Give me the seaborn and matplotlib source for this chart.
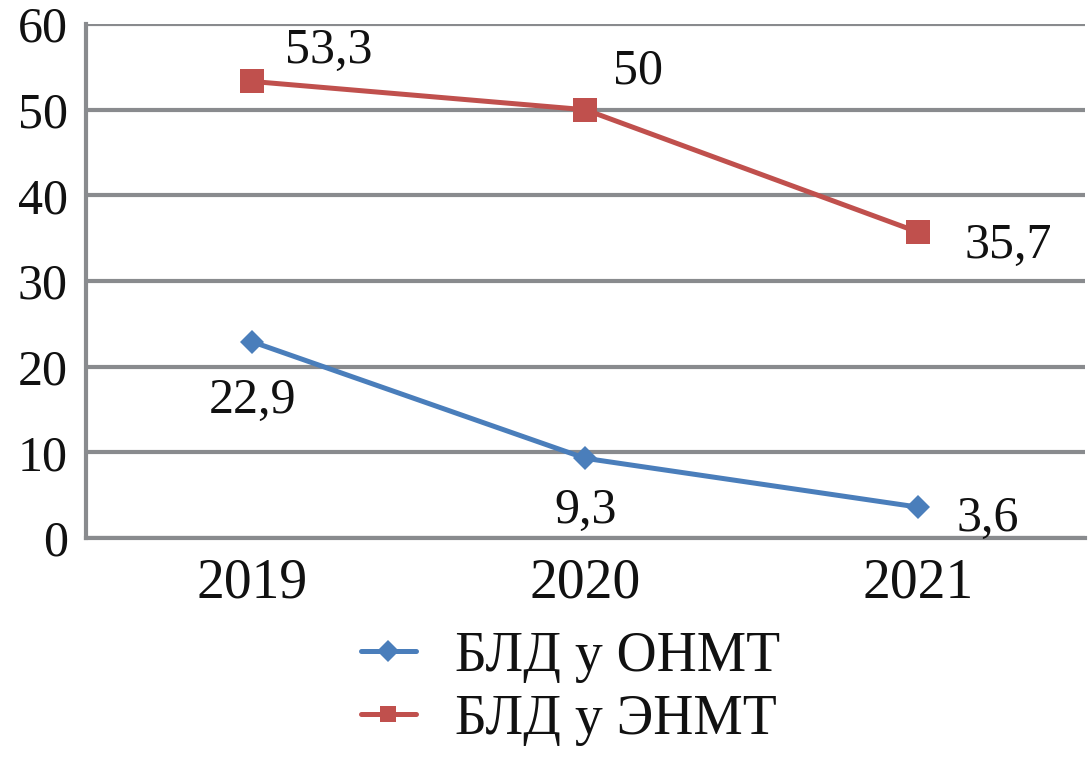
import pandas as pd
import numpy as np
import seaborn as sns
import matplotlib.pyplot as plt
from matplotlib import font_manager as fm

years = ["2019", "2020", "2021"]
onmt = [22.9, 9.3, 3.6]
enmt = [53.3, 50.0, 35.7]
onmt_labels = ["22,9", "9,3", "3,6"]
enmt_labels = ["53,3", "50", "35,7"]
series_names = ["БЛД у ОНМТ", "БЛД у ЭНМТ"]

df = pd.DataFrame({
    "year": years * 2,
    "value": onmt + enmt,
    "series": [series_names[0]] * 3 + [series_names[1]] * 3,
})

sns.set_style("white")
plt.rcParams["font.family"] = "Liberation Serif"

serif_path = fm.findfont(fm.FontProperties(family="Liberation Serif"))


def fp(size):
    return fm.FontProperties(fname=serif_path, size=size)


grid_col = "#898B8E"
blue = "#4A7EBB"
red = "#C0504D"
txt_col = "#111111"

fig = plt.figure(figsize=(10.88, 7.67), dpi=100)
ax = fig.add_axes([0.079, 0.2986, 0.918, 0.670])

sns.lineplot(
    data=df, x="year", y="value", hue="series", style="series",
    markers={series_names[0]: "D", series_names[1]: "s"},
    dashes=False,
    palette={series_names[0]: blue, series_names[1]: red},
    linewidth=3.6, markersize=12, markeredgewidth=0,
    ax=ax,
)
# bigger square marker for the red series
for line in ax.get_lines():
    if line.get_marker() == "s":
        line.set_markersize(17)

ax.set_xlim(-0.5, 2.5)
ax.set_ylim(0, 60)
ax.set_yticks(np.arange(0, 61, 10))
ax.set_yticklabels([str(v) for v in range(0, 61, 10)], fontproperties=fp(36), color=txt_col)
ax.set_xticks([-0.5, 0.5, 1.5, 2.5])
ax.set_xticklabels(["", "", "", ""])
ax.set_xticks([0, 1, 2], minor=True)
ax.set_xticklabels(years, minor=True, fontproperties=fp(40), color=txt_col)
ax.tick_params(axis="x", which="minor", length=0, pad=14)
ax.tick_params(axis="x", which="major", length=9, width=3, color=grid_col, direction="out")
ax.tick_params(axis="y", length=9, width=3, color=grid_col, pad=4)
ax.grid(axis="y", color=grid_col, linewidth=3)
ax.set_axisbelow(True)
for s in ["top", "right"]:
    ax.spines[s].set_visible(False)
for s in ["left", "bottom"]:
    ax.spines[s].set_color(grid_col)
    ax.spines[s].set_linewidth(3)
ax.set_xlabel("")
ax.set_ylabel("")

enmt_off = [(55, 22), (38, 28), (65, -10)]
onmt_off = [(0, -42), (0, -38), (50, -8)]
for i in range(3):
    ax.annotate(enmt_labels[i], (i, enmt[i]), xytext=enmt_off[i], textcoords="offset points",
                ha="center", va="center", fontproperties=fp(36), color=txt_col)
    ax.annotate(onmt_labels[i], (i, onmt[i]), xytext=onmt_off[i], textcoords="offset points",
                ha="center", va="center", fontproperties=fp(36), color=txt_col)

leg = ax.legend(loc="upper center", bbox_to_anchor=(0.485, -0.105), frameon=False,
                prop=fp(40), handlelength=1.0, handletextpad=0.7, labelspacing=0.2,
                borderpad=0.2)
for t in leg.get_texts():
    t.set_color(txt_col)
for h in leg.legend_handles:
    h.set_linewidth(3.6)
    h.set_markersize(11)

fig.savefig("out.png", dpi=100)
